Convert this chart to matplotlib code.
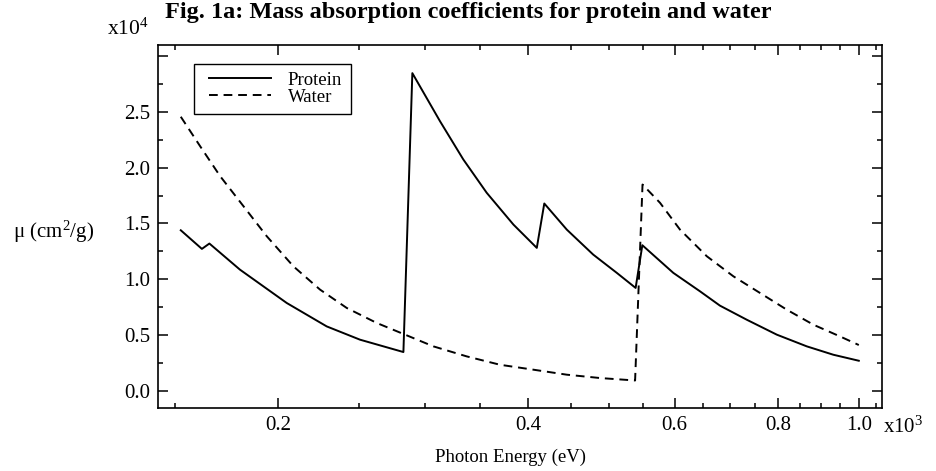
import matplotlib
matplotlib.use("Agg")
import matplotlib.pyplot as plt
from matplotlib.patches import Rectangle
from matplotlib.ticker import FixedLocator, FixedFormatter, NullFormatter

plt.rcParams['font.family'] = ['Liberation Serif', 'DejaVu Serif']
plt.rcParams['mathtext.fontset'] = 'custom'
plt.rcParams['mathtext.rm'] = 'Liberation Serif'

# photon energy in units of 10^3 eV, mu in units of 10^4 cm^2/g
protein_E = [0.1526, 0.1618, 0.1652, 0.1798, 0.2047, 0.2287, 0.2508, 0.2829,
             0.2900, 0.3131, 0.3340, 0.3564, 0.3838, 0.4095,
             0.4181, 0.4450, 0.4788, 0.5112, 0.5386,
             0.5487, 0.5979, 0.6440, 0.6805, 0.7329, 0.7966, 0.8657, 0.9317, 1.0]
protein_mu = [1.439, 1.272, 1.320, 1.086, 0.787, 0.577, 0.458, 0.347,
              2.848, 2.417, 2.074, 1.775, 1.490, 1.281,
              1.679, 1.445, 1.221, 1.057, 0.922,
              1.305, 1.057, 0.891, 0.763, 0.637, 0.503, 0.398, 0.323, 0.269]

water_E = [0.1526, 0.1610, 0.1702, 0.1816, 0.1937, 0.2085, 0.2245, 0.2418,
           0.2627, 0.2842, 0.3074, 0.3372, 0.3698, 0.4055, 0.4450, 0.4880, 0.5378,
           0.5490, 0.5763, 0.6091, 0.6561, 0.7063, 0.7603, 0.8189, 0.8818, 0.9493, 1.0]
water_mu = [2.457, 2.193, 1.924, 1.654, 1.385, 1.116, 0.907, 0.742,
            0.608, 0.503, 0.398, 0.308, 0.233, 0.189, 0.144, 0.114, 0.092,
            1.849, 1.685, 1.445, 1.206, 1.026, 0.877, 0.727, 0.592, 0.487, 0.410]

x_major = [0.2, 0.4, 0.6, 0.8, 1.0]
x_labels = ['0.2', '0.4', '0.6', '0.8', '1.0']
x_minor = [0.15, 0.25, 0.3, 0.35, 0.45, 0.5, 0.55, 0.65, 0.7, 0.75,
           0.85, 0.9, 0.95, 1.05]
y_major = [0.0, 0.5, 1.0, 1.5, 2.0, 2.5, 3.0]
y_labels = ['0.0', '0.5', '1.0', '1.5', '2.0', '2.5', '']
y_minor = [0.25, 0.75, 1.25, 1.75, 2.25, 2.75]

fig = plt.figure(figsize=(9.37, 4.71), dpi=100)
ax = fig.add_axes([0.169, 0.1344, 0.772, 0.770])

ax.plot(protein_E, protein_mu, color='black', lw=1.4, label='Protein')
ax.plot(water_E, water_mu, color='black', lw=1.4, ls=(0, (4.5, 3)), label='Water')

ax.set_xscale('log')
ax.set_xlim(0.1434, 1.0656)
ax.set_ylim(-0.152, 3.10)

ax.xaxis.set_major_locator(FixedLocator(x_major))
ax.xaxis.set_major_formatter(FixedFormatter(x_labels))
ax.xaxis.set_minor_locator(FixedLocator(x_minor))
ax.xaxis.set_minor_formatter(NullFormatter())
ax.yaxis.set_major_locator(FixedLocator(y_major))
ax.yaxis.set_major_formatter(FixedFormatter(y_labels))
ax.yaxis.set_minor_locator(FixedLocator(y_minor))

ax.tick_params(which='both', direction='in', top=True, right=True,
               labelsize=15, width=1.1)
ax.tick_params(which='major', length=7, pad=6)
ax.tick_params(which='minor', length=3.5)
for s in ax.spines.values():
    s.set_linewidth(1.2)

# legend box drawn separately so the horizontal padding can be wider
ax.add_patch(Rectangle((0.0498, 0.8098), 0.2166, 0.1378, transform=ax.transAxes,
                       fill=False, edgecolor='black', lw=1.0, zorder=3))
ax.legend(loc='center left', bbox_to_anchor=(0.0701, 0.8795),
          borderaxespad=0, borderpad=0, fontsize=13.5, handlelength=3.3,
          handletextpad=0.9, labelspacing=0.0, frameon=False)

fig.text(0.5, 1 - 18 / 471, 'Fig. 1a: Mass absorption coefficients for protein and water',
         ha='center', va='baseline', fontsize=17.5, fontweight='bold')
fig.text(107 / 937, 1 - 35 / 471, r'x$\mathregular{10^4}$', fontsize=15.5,
         ha='left', va='baseline')
fig.text(883 / 937, 1 - 433 / 471, r'x$\mathregular{10^3}$', fontsize=15,
         ha='left', va='baseline')
fig.text(511 / 937, 1 - 457 / 471, 'Photon Energy (eV)',
         fontsize=13.5, ha='center', va='center')
fig.text(13 / 937, 1 - 232 / 471, r'μ (cm$\mathregular{^2}$/g)',
         fontsize=15, ha='left', va='center')

fig.savefig('out.png', dpi=100)
